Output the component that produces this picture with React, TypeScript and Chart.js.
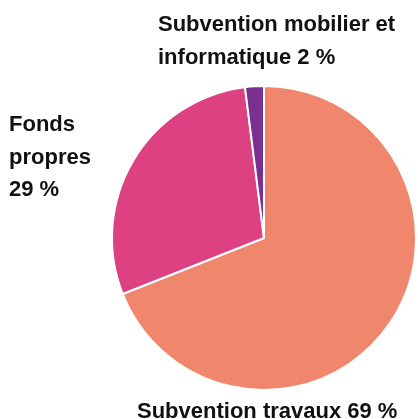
import React, { useEffect, useRef } from "react";
import { Chart, registerables } from "chart.js";

Chart.register(...registerables);

const categories = ["Subvention travaux", "Fonds propres", "Subvention mobilier et informatique"];
const values = [69, 29, 2];
const colors = ["#F0866C", "#DE4181", "#7B3091"];
const labelLines = [
  ["Subvention travaux 69 %"],
  ["Fonds", "propres", "29 %"],
  ["Subvention mobilier et", "informatique 2 %"],
];

const FONT = "bold 22px 'Liberation Sans', Arial, Helvetica, sans-serif";

const labelPlugin = {
  id: "outerLabels",
  afterDraw(chart: any) {
    const arc = chart.getDatasetMeta(0).data[0];
    if (!arc) return;
    const cx = arc.x;
    const cy = arc.y;
    const r = arc.outerRadius;
    const ctx = chart.ctx;
    ctx.save();
    ctx.font = FONT;
    ctx.fillStyle = "#111111";
    ctx.textBaseline = "alphabetic";
    ctx.textAlign = "left";
    const lh = 32.5;
    labelLines[0].forEach((t, i) => ctx.fillText(t, cx - 127, cy + r + 28 + i * lh));
    labelLines[1].forEach((t, i) => ctx.fillText(t, cx - 255, cy - 107 + i * lh));
    labelLines[2].forEach((t, i) => ctx.fillText(t, cx - 106, cy - 207 + i * lh));
    ctx.restore();
  },
};

export default function App() {
  const ref = useRef<HTMLCanvasElement>(null);
  useEffect(() => {
    if (!ref.current) return;
    const chart = new Chart(ref.current, {
      type: "pie",
      data: {
        labels: categories,
        datasets: [
          {
            data: values,
            backgroundColor: colors,
            borderColor: "#ffffff",
            borderWidth: 2,
          },
        ],
      },
      options: {
        animation: false,
        responsive: false,
        events: [],
        layout: { padding: { left: 111, right: 1, top: 85, bottom: 28 } },
        plugins: { legend: { display: false }, tooltip: { enabled: false } },
      },
      plugins: [labelPlugin],
    });
    return () => chart.destroy();
  }, []);
  return (
    <div style={{ position: "absolute", left: 0, top: 0, width: 418, height: 419 }}>
      <canvas ref={ref} width={418} height={419} style={{ display: "block" }} />
    </div>
  );
}
